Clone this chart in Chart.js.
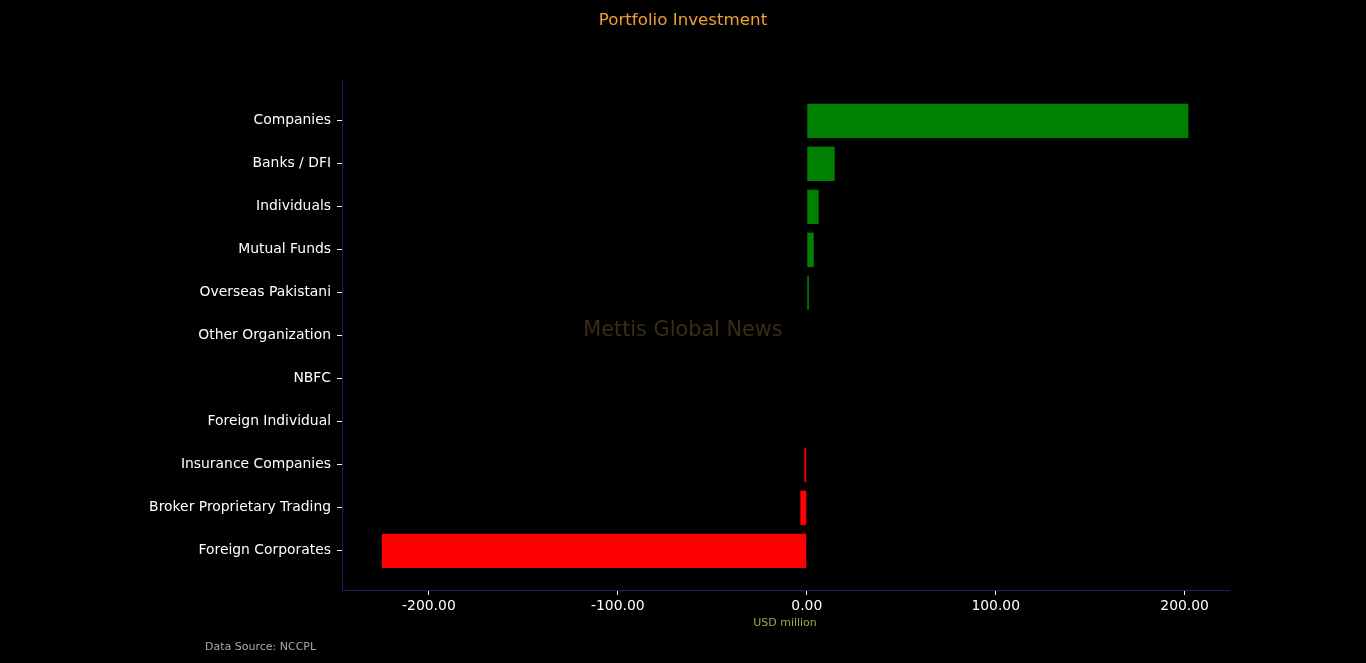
<!DOCTYPE html>
<html>
<head>
<meta charset="utf-8">
<script src="https://cdn.jsdelivr.net/npm/chart.js@4.4.0/dist/chart.umd.min.js"></script>
<style>
  html, body { margin: 0; padding: 0; background: #000; }
  #wrap { width: 1366px; height: 663px; }
</style>
</head>
<body>
<div id="wrap"><canvas id="chart"></canvas></div>
<script>
// categories, top to bottom
const categories = [
  "Companies", "Banks / DFI", "Individuals", "Mutual Funds", "Overseas Pakistani",
  "Other Organization", "NBFC", "Foreign Individual", "Insurance Companies",
  "Broker Proprietary Trading", "Foreign Corporates"
];
// net flows, USD million
const netValues = [202.0, 14.8, 6.3, 3.7, 1.1, 0, 0, 0, -1.2, -3.4, -224.9];
const xTicks = [-200, -100, 0, 100, 200];

const fontFam = "'DejaVu Sans', sans-serif";

// black background + extra texts
const extras = {
  id: "extras",
  beforeDraw(chart) {
    const c = chart.ctx;
    c.save();
    c.fillStyle = "#000";
    c.fillRect(0, 0, chart.width, chart.height);
    c.restore();
  },
  afterDraw(chart) {
    const c = chart.ctx;
    c.save();
    c.textAlign = "center";
    c.textBaseline = "middle";
    c.fillStyle = "#f0a030";
    c.font = "16.7px " + fontFam;
    c.fillText("Portfolio Investment", 683, 21);
    c.fillStyle = "#3b2d14";
    c.font = "20.8px " + fontFam;
    c.fillText("Mettis Global News", 683, 331);
    c.fillStyle = "#8cb050";
    c.font = "11px " + fontFam;
    c.fillText("USD million", 785, 623);
    c.textAlign = "left";
    c.fillStyle = "#aaaaaa";
    c.font = "11px " + fontFam;
    c.fillText("Data Source: NCCPL", 205, 647);
    c.restore();
  }
};

new Chart(document.getElementById("chart"), {
  type: "bar",
  data: {
    datasets: [{
      data: netValues.map((v, i) => ({ x: v, y: i })),
      backgroundColor: netValues.map(v => v >= 0 ? "#008000" : "#ff0000"),
      barPercentage: 0.8,
      categoryPercentage: 1.0
    }]
  },
  options: {
    indexAxis: "y",
    responsive: true,
    maintainAspectRatio: false,
    animation: false,
    layout: { padding: { top: 80, right: 137, left: 0, bottom: 0 } },
    plugins: { legend: { display: false }, tooltip: { enabled: false } },
    scales: {
      x: {
        type: "linear",
        min: -246,
        max: 223.5,
        afterBuildTicks: s => { s.ticks = xTicks.map(v => ({ value: v })); },
        afterFit: s => { s.height = 73; },
        grid: { drawOnChartArea: false, drawTicks: true, tickLength: 5, color: "#ffffff" },
        border: { display: true, color: "#1e1e62" },
        ticks: {
          color: "#ffffff", padding: 3,
          font: { family: fontFam, size: 13.9 },
          callback: v => v.toFixed(2)
        }
      },
      y: {
        type: "linear",
        reverse: true,
        offset: false,
        min: -0.95,
        max: 10.91,
        afterBuildTicks: s => { s.ticks = categories.map((c, i) => ({ value: i })); },
        afterFit: s => { s.width = 342; },
        grid: { offset: false, drawOnChartArea: false, drawTicks: true, tickLength: 5, color: "#ffffff" },
        border: { display: true, color: "#1e1e62" },
        ticks: {
          color: "#ffffff", padding: 6,
          font: { family: fontFam, size: 13.9 },
          callback: v => categories[v]
        }
      }
    }
  },
  plugins: [extras]
});
</script>
</body>
</html>
